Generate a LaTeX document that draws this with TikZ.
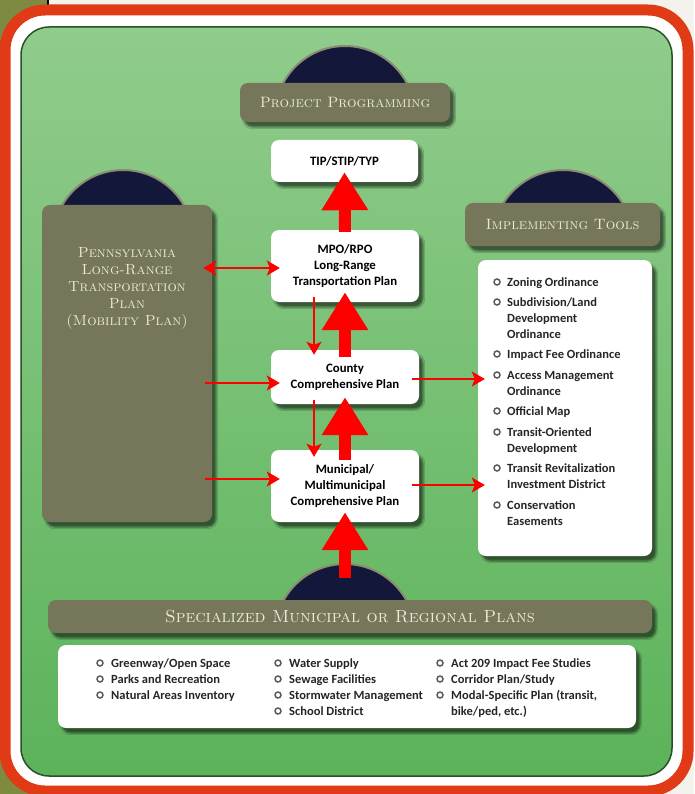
\documentclass[tikz,border=0pt]{standalone}
\usepackage{fontspec}
\newfontfamily\calib{Carlito}
\usetikzlibrary{arrows.meta,shadows.blur,positioning}

\definecolor{olivebox}{HTML}{76765A}
\definecolor{olivebg}{HTML}{7E8A40}
\definecolor{paper}{HTML}{F4F2EC}
\definecolor{navy}{HTML}{131739}
\definecolor{frame}{HTML}{E03A17}
\definecolor{cream}{HTML}{ECE9DA}
\definecolor{leaf}{HTML}{5CB35A}
\definecolor{leaflt}{HTML}{90CC8C}
\definecolor{arrowred}{HTML}{FF0000}
\definecolor{dotgray}{HTML}{5C5C5C}

% dome behind a banner: centre x, top y, cut y
\newcommand{\dome}[3]{%
  \begin{scope}
    \clip (#1-80,#2-5) rectangle (#1+80,#3);
    \draw[dome] (#1,#2+70) circle[radius=70];
  \end{scope}}
% list entry, baseline on its first line
\newcommand{\entry}[1]{\begin{tabular}[t]{@{}l@{}}#1\end{tabular}}

\begin{document}
\begin{tikzpicture}[x=1pt,y=-1pt,
    dome/.style={fill=navy,draw=olivebox!85!white,line width=2pt},
    shade/.style={blur shadow={shadow xshift=4pt,shadow yshift=-5pt,shadow opacity=55}},
    banner/.style={fill=olivebox,rounded corners=8pt,text=cream,shade,
                   font=\fontsize{15}{17}\selectfont\scshape},
    plan/.style={fill=white,rounded corners=8pt,minimum width=148pt,align=center,shade,
                 font=\calib\bfseries\fontsize{12.8}{16}\selectfont},
    listbox/.style={fill=white,rounded corners=8pt,shade},
    bullet/.style={circle,draw=dotgray,fill=white,line width=1.5pt,inner sep=0pt,minimum size=6pt},
    item/.style={anchor=base west,inner sep=0pt,text=black!85,
                 font=\calib\bfseries\fontsize{12.5}{16}\selectfont},
    link/.style={draw=arrowred,line width=1.8pt,-{Stealth[length=13pt,width=15pt,inset=3pt]}},
    bigup/.style={draw=arrowred,line width=12pt,-{Triangle[length=38pt,width=44pt]}}]

  \useasboundingbox (0,0) rectangle (694,794);

  % page behind the frame
  \fill[paper] (0,0) rectangle (694,794);
  \fill[olivebg] (0,0) rectangle (47,794);
  \draw[black,line width=2pt] (48,0) -- (48,8);
  \draw[frame,line width=11pt,fill=white,rounded corners=40pt] (5,10) rectangle (688,791);
  \draw[black!55!leaf,line width=1.5pt,rounded corners=28pt,top color=leaflt,bottom color=leaf]
    (21,27) rectangle (672,776);

  % domes
  \dome{345}{46}{90}
  \dome{123}{170}{210}
  \dome{563}{170}{208}
  \dome{345}{564}{605}

  % banners
  \node[banner,minimum width=210pt,minimum height=39pt] (proj) at (345,102.5) {Project Programming};
  \node[banner,minimum width=195pt,minimum height=43pt] (impl) at (562.5,224.5) {Implementing Tools};
  \node[banner,minimum width=604pt,minimum height=33pt,font=\fontsize{17.5}{17}\selectfont\scshape]
    (spec) at (350,616.5) {Specialized Municipal or Regional Plans};
  \node[banner,minimum width=170pt,minimum height=317pt] (penn) at (127,363.5) {};
  \node[text=cream,align=center,font=\fontsize{14.7}{17}\selectfont\scshape] (penntxt) at (127,288)
    {Pennsylvania\\Long-Range\\Transportation\\Plan\\(Mobility Plan)};

  % plan boxes
  \node[plan,minimum width=147pt,minimum height=42pt] (tip) at (344.5,161) {TIP/STIP/TYP};
  \node[plan,minimum height=72pt] (mpo) at (345,266) {MPO/RPO\\Long-Range\\Transportation Plan};
  \node[plan,minimum height=54pt] (county) at (345,377) {County\\Comprehensive Plan};
  \node[plan,minimum height=72pt] (muni) at (345,486) {Municipal/\\Multimunicipal\\Comprehensive Plan};

  % lists
  \node[listbox,minimum width=174pt,minimum height=296pt] (tools) at (565,408) {};
  \node[listbox,minimum width=578pt,minimum height=83pt] (plans) at (347,686.5) {};

  \foreach \yy/\txt in {286/{Zoning Ordinance},
                        306/{Subdivision/Land\\Development\\Ordinance},
                        358/{Impact Fee Ordinance},
                        379/{Access Management\\Ordinance},
                        415/{Official Map},
                        436/{Transit-Oriented\\Development},
                        472/{Transit Revitalization\\Investment District},
                        509/{Conservation\\Easements}}{
    \node[bullet] (tdot\yy) at (497,\yy-4) {};
    \node[item] (tool\yy) at (507,\yy) {\entry{\txt}};
  }

  \foreach \xx/\yy/\txt in {100/667/{Greenway/Open Space},
                            100/683/{Parks and Recreation},
                            100/699/{Natural Areas Inventory},
                            278/667/{Water Supply},
                            278/683/{Sewage Facilities},
                            278/699/{Stormwater Management},
                            278/715/{School District},
                            440/667/{Act 209 Impact Fee Studies},
                            440/683/{Corridor Plan/Study},
                            440/699/{Modal-Specific Plan (transit,\\bike/ped, etc.)}}{
    \node[bullet] (pdot\xx-\yy) at (\xx,\yy-4) {};
    \node[item] (plan\xx-\yy) at (\xx+11,\yy) {\entry{\txt}};
  }

  % thick arrows up the chain
  \coordinate (base) at (345,578);
  \draw[bigup] ([yshift=-2pt]mpo.north) -- ([yshift=10pt]tip.south);
  \draw[bigup] ([yshift=-7pt]county.north) -- ([yshift=10pt]mpo.south);
  \draw[bigup] ([yshift=-10pt]muni.north) -- ([yshift=7pt]county.south);
  \draw[bigup] (base) -- ([yshift=10pt]muni.south);

  % thin arrows
  \draw[link,{Stealth[length=13pt,width=15pt,inset=3pt]}-{Stealth[length=13pt,width=15pt,inset=3pt]}]
    ([xshift=-9pt,yshift=-2pt]penn.east |- mpo.west) -- ([xshift=9pt,yshift=-2pt]mpo.west);
  \draw[link] ([xshift=-7pt,yshift=-6pt]penn.east |- county.west) -- ([xshift=9pt,yshift=-6pt]county.west);
  \draw[link] ([xshift=-7pt,yshift=7pt]penn.east |- muni.west) -- ([xshift=9pt,yshift=7pt]muni.west);
  \draw[link] ([xshift=-31pt,yshift=5pt]mpo.south) -- ([xshift=-31pt,yshift=-5pt]county.north);
  \draw[link] ([xshift=-31pt,yshift=4pt]county.south) -- ([xshift=-31pt,yshift=-7pt]muni.north);
  \draw[link] ([xshift=-7pt,yshift=-2pt]county.east) -- ([xshift=7pt,yshift=-2pt]county.east -| tools.west);
  \draw[link] ([xshift=-7pt,yshift=1pt]muni.east) -- ([xshift=7pt,yshift=1pt]muni.east -| tools.west);
\end{tikzpicture}
\end{document}
